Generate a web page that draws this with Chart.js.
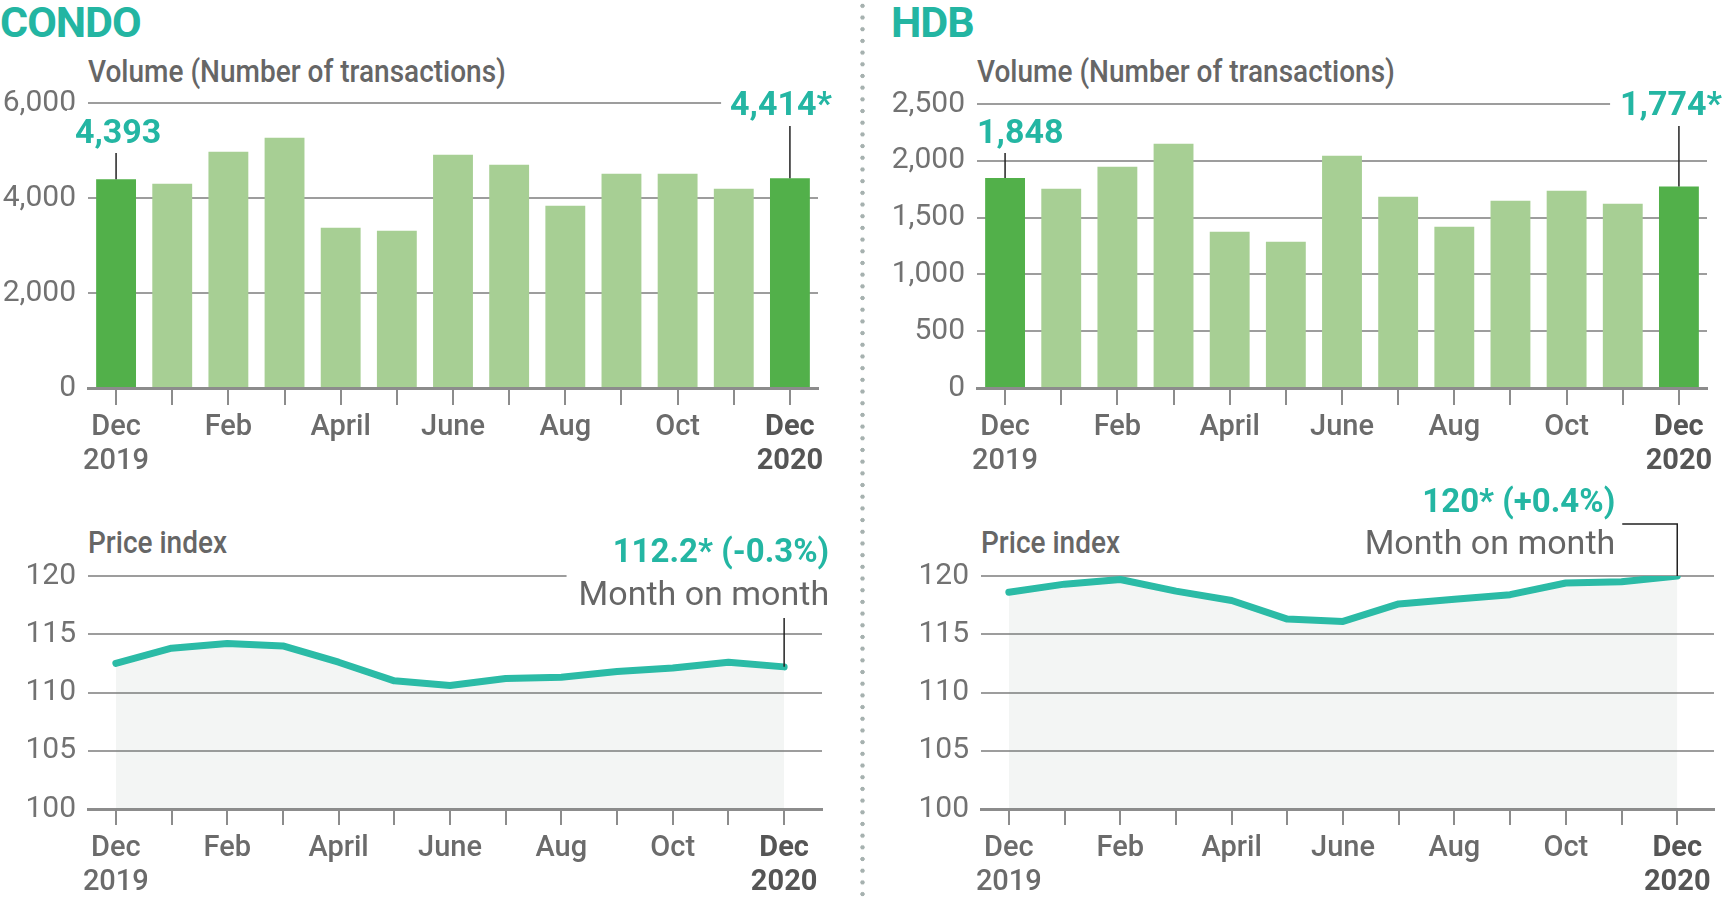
<!DOCTYPE html>
<html><head><meta charset="utf-8">
<script src="https://cdn.jsdelivr.net/npm/chart.js@4.4.1/dist/chart.umd.min.js"></script>
<style>
html,body{margin:0;padding:0;background:#fff;}
body{width:1726px;height:898px;position:relative;overflow:hidden;font-family:Roboto,"Noto Sans",sans-serif;}
canvas{position:absolute;}
.title{position:absolute;top:1px;font-weight:700;font-size:43px;color:#23b5a2;letter-spacing:-1px;line-height:1;white-space:nowrap;}
.hdr{position:absolute;font-size:32px;font-weight:500;color:#666;line-height:1;transform:scaleX(0.875);transform-origin:0 0;white-space:nowrap;}
.divider{position:absolute;left:860px;top:0;width:5px;height:898px;background:radial-gradient(circle,#a6b1af 1.9px,rgba(255,255,255,0) 2.5px) 0 0/5px 11.7px repeat-y;}
</style></head>
<body>
<div class="title" style="left:0px">CONDO</div>
<div class="title" style="left:891px">HDB</div>
<div class="hdr" style="left:88px;top:55px">Volume (Number of transactions)</div>
<div class="hdr" style="left:977px;top:55px">Volume (Number of transactions)</div>
<div class="hdr" style="left:88px;top:526px">Price index</div>
<div class="hdr" style="left:981px;top:526px">Price index</div>
<div class="divider"></div>
<canvas id="condoVol" width="863" height="490" style="left:0;top:0"></canvas>
<canvas id="hdbVol" width="860" height="490" style="left:866px;top:0"></canvas>
<canvas id="condoPrice" width="863" height="418" style="left:0;top:480px"></canvas>
<canvas id="hdbPrice" width="860" height="418" style="left:866px;top:480px"></canvas>
<script>
// ---- data ----
const months = [["Dec","2019"],"","Feb","","April","","June","","Aug","","Oct","",["Dec","2020"]];
const condoVolume = [4393,4302,4976,5270,3376,3312,4913,4702,3839,4513,4513,4197,4414];
const hdbVolume   = [1848,1755,1948,2151,1376,1288,2045,1684,1420,1649,1737,1623,1774];
const condoPrice  = [112.5,113.8,114.2,114.0,112.6,111.0,110.6,111.2,111.3,111.8,112.1,112.6,112.2];
const hdbPrice    = [118.6,119.3,119.7,118.7,117.9,116.3,116.1,117.6,118.0,118.4,119.4,119.5,120.0];
const condoVolumeTicks = [0,2000,4000,6000];
const hdbVolumeTicks = [0,500,1000,1500,2000,2500];
const priceTicks = [100,105,110,115,120];
const condoVolumeNotes = ["4,393","4,414*"];
const hdbVolumeNotes = ["1,848","1,774*"];
const condoPriceNote = ["112.2* (-0.3%)","Month on month"];
const hdbPriceNote = ["120* (+0.4%)","Month on month"];

// ---- styles ----
const DARK = '#52b04a', LIGHT = '#a7cf94', TEAL = '#24b6a3', LINE = '#2bbba6';
const GRID = '#9d9d9d', AXIS = '#8c8c8c', TXT = '#6b6b6b';
const LAST = months.length - 1;
Chart.defaults.font.family = 'Roboto, "Noto Sans", sans-serif';

const notesPlugin = {
  id: 'notes',
  afterDraw(chart, args, opts) {
    const ctx = chart.ctx;
    const meta = chart.getDatasetMeta(0);
    (opts.items || []).forEach(it => {
      const el = meta.data[it.index];
      const px = el.x, py = el.y;
      const ax = px + it.dx;
      ctx.save();
      let minL = Infinity, maxR = -Infinity;
      const drawn = it.lines.map(l => {
        const font = `${l.bold ? 700 : 400} ${l.size}px Roboto, "Noto Sans", sans-serif`;
        ctx.font = font;
        const w = ctx.measureText(l.text).width;
        let left = it.align === 'right' ? ax - w : it.align === 'left' ? ax : ax - w / 2;
        minL = Math.min(minL, left); maxR = Math.max(maxR, left + w);
        return {l, font, left};
      });
      const pad = it.pad;
      const top = it.lines[0].y - it.lines[0].size * 0.74 - pad;
      const bottom = it.lines[it.lines.length - 1].y + pad;
      ctx.fillStyle = '#fff';
      ctx.fillRect(minL - pad, top, maxR - minL + 2 * pad, bottom - top);
      drawn.forEach(d => {
        ctx.font = d.font;
        ctx.fillStyle = d.l.color;
        ctx.textAlign = 'left';
        ctx.textBaseline = 'alphabetic';
        ctx.fillText(d.l.text, d.left, d.l.y);
      });
      ctx.strokeStyle = '#222';
      ctx.lineWidth = 1.5;
      ctx.beginPath();
      if (it.elbow) {
        ctx.moveTo(px + it.elbow.dx, it.elbow.y);
        ctx.lineTo(px, it.elbow.y);
      } else {
        ctx.moveTo(px, it.leaderTop);
      }
      ctx.lineTo(px, py);
      ctx.stroke();
      ctx.restore();
    });
  }
};

function xTickFont(c) {
  return {size: 29, weight: c.index === LAST ? 700 : 500, lineHeight: 1.2};
}
function xTickColor(c) { return c.index === LAST ? '#555' : TXT; }

function volumeChart(id, values, ticks, g, items) {
  return new Chart(document.getElementById(id), {
    type: 'bar',
    data: {labels: months, datasets: [{
      data: values,
      backgroundColor: c => (c.dataIndex === 0 || c.dataIndex === LAST) ? DARK : LIGHT,
      borderWidth: 0, barPercentage: 0.71, categoryPercentage: 1
    }]},
    options: {
      responsive: false, animation: false, events: [],
      layout: {padding: {top: g.top, right: g.right, left: 0, bottom: 0}},
      plugins: {legend: {display: false}, tooltip: {enabled: false}, notes: {items}},
      scales: {
        x: {
          offset: true,
          grid: {offset: false, drawOnChartArea: false, drawTicks: true, tickLength: 17, color: AXIS, lineWidth: 2},
          border: {display: true, color: AXIS, width: 3},
          ticks: {autoSkip: false, maxRotation: 0, padding: 5, font: xTickFont, color: xTickColor},
          afterFit: s => { s.height = g.xh; }
        },
        y: {
          min: ticks[0], max: ticks[ticks.length - 1],
          afterBuildTicks: s => { s.ticks = ticks.map(v => ({value: v})); },
          grid: {color: GRID, lineWidth: 2, drawTicks: false},
          border: {display: false},
          ticks: {padding: 12, font: {size: 30, weight: 400}, color: '#727272', callback: v => v.toLocaleString('en-US')},
          afterFit: s => { s.width = g.left; }
        }
      }
    },
    plugins: [notesPlugin]
  });
}

function priceChart(id, values, g, items) {
  return new Chart(document.getElementById(id), {
    type: 'line',
    data: {datasets: [{
      data: values.map((v, i) => ({x: i, y: v})),
      borderColor: LINE, borderWidth: 7, pointRadius: 0, tension: 0,
      borderJoinStyle: 'round', borderCapStyle: 'round',
      fill: 'start', backgroundColor: 'rgba(120,140,130,0.09)'
    }]},
    options: {
      responsive: false, animation: false, events: [],
      layout: {padding: {top: g.top, right: g.right, left: 0, bottom: 0}},
      plugins: {legend: {display: false}, tooltip: {enabled: false}, notes: {items}},
      scales: {
        x: {
          type: 'linear', min: -0.5, max: g.xmax,
          afterBuildTicks: s => { s.ticks = months.map((m, i) => ({value: i})); },
          grid: {drawOnChartArea: false, drawTicks: true, tickLength: 16, color: AXIS, lineWidth: 2},
          border: {display: true, color: AXIS, width: 3},
          ticks: {autoSkip: false, maxRotation: 0, padding: 6, font: xTickFont, color: xTickColor,
                  callback: (v, i) => months[i]},
          afterFit: s => { s.height = g.xh; }
        },
        y: {
          min: priceTicks[0], max: priceTicks[priceTicks.length - 1],
          afterBuildTicks: s => { s.ticks = priceTicks.map(v => ({value: v})); },
          grid: {color: GRID, lineWidth: 2, drawTicks: false},
          border: {display: false},
          ticks: {padding: 12, font: {size: 30, weight: 400}, color: '#727272'},
          afterFit: s => { s.width = g.left; }
        }
      }
    },
    plugins: [notesPlugin]
  });
}

const valFont = (text, y) => ({text, y, size: 34, bold: true, color: TEAL});

volumeChart('condoVol', condoVolume, condoVolumeTicks, {top: 103, right: 45, left: 88, xh: 102}, [
  {index: 0, lines: [valFont(condoVolumeNotes[0], 143)], align: 'center', dx: 2, pad: 8, leaderTop: 153},
  {index: LAST, lines: [valFont(condoVolumeNotes[1], 115)], align: 'right', dx: 42, pad: 9, leaderTop: 126}
]);
volumeChart('hdbVol', hdbVolume, hdbVolumeTicks, {top: 104, right: 19, left: 111, xh: 102}, [
  {index: 0, lines: [valFont(hdbVolumeNotes[0], 143)], align: 'left', dx: -28, pad: 8, leaderTop: 153},
  {index: LAST, lines: [valFont(hdbVolumeNotes[1], 115)], align: 'right', dx: 43, pad: 10, leaderTop: 126}
]);
priceChart('condoPrice', condoPrice, {top: 96, right: 41, left: 88, xh: 89, xmax: 12.68}, [
  {index: LAST, lines: [{text: condoPriceNote[0], y: 82, size: 33, bold: true, color: TEAL}, {text: condoPriceNote[1], y: 125, size: 34, bold: false, color: '#666'}],
   align: 'right', dx: 45, pad: 12, leaderTop: 138}
]);
priceChart('hdbPrice', hdbPrice, {top: 96, right: 12, left: 115, xh: 89, xmax: 12.66}, [
  {index: LAST, lines: [{text: hdbPriceNote[0], y: 32, size: 33, bold: true, color: TEAL}, {text: hdbPriceNote[1], y: 74, size: 34, bold: false, color: '#666'}],
   align: 'right', dx: -62, pad: 6, elbow: {dx: -55, y: 44}}
]);
</script>
</body></html>
